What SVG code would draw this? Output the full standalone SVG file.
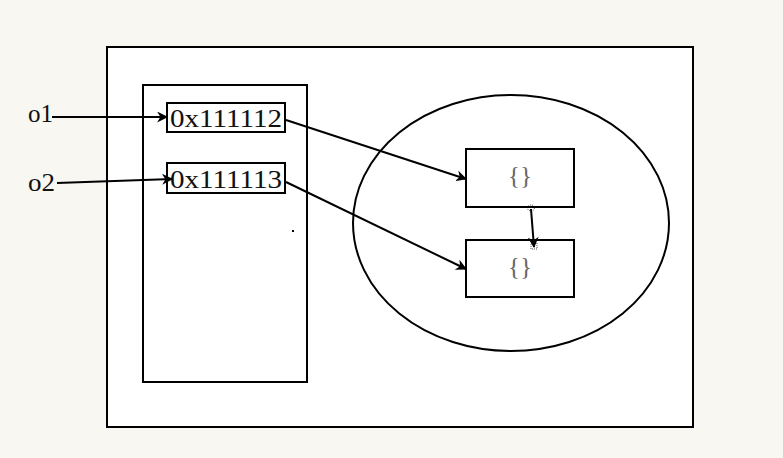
<svg xmlns="http://www.w3.org/2000/svg" width="783" height="458" viewBox="0 0 783 458">
<style>
.ln{fill:none;stroke:#000;stroke-width:2}
.bx{fill:#fff;stroke:#000;stroke-width:2}
.t{font-family:"Liberation Serif",serif;font-size:25px;fill:#111}
.br{font-family:"Liberation Serif",serif;font-size:25px;fill:#666}
.ar{fill:none;stroke:#000;stroke-width:2;marker-end:url(#ah)}
</style>
<defs>
<marker id="ah" viewBox="0 0 10 10" refX="9" refY="5" markerWidth="12" markerHeight="11" markerUnits="userSpaceOnUse" orient="auto">
<path d="M0,0 L10,5 L0,10 L3,5 Z" fill="#000"/>
</marker>
</defs>
<rect width="783" height="458" fill="#f9f7f1"/>
<g id="frame"><rect x="107" y="47" width="586" height="380" class="bx"/></g>
<g id="stack"><rect x="143" y="85" width="164" height="297" class="bx"/></g>
<g id="heap"><ellipse cx="511" cy="223" rx="158" ry="128" class="bx"/></g>
<g id="addr1"><rect x="167" y="103" width="118" height="29" class="bx"/><text x="170" y="127" class="t" textLength="112" lengthAdjust="spacingAndGlyphs">0x111112</text></g>
<g id="addr2"><rect x="167" y="163" width="118" height="30" class="bx"/><text x="170" y="188" class="t" textLength="112" lengthAdjust="spacingAndGlyphs">0x111113</text></g>
<g id="obj1"><rect x="466" y="149" width="108" height="58" class="bx"/><text x="520" y="184" class="br" text-anchor="middle">{}</text></g>
<g id="obj2"><rect x="466" y="240" width="108" height="57" class="bx"/><text x="520" y="275" class="br" text-anchor="middle">{}</text></g>
<g id="o1"><text x="28" y="122" class="t" textLength="25" lengthAdjust="spacingAndGlyphs">o1</text></g>
<g id="o2"><text x="28" y="191" class="t" textLength="27" lengthAdjust="spacingAndGlyphs">o2</text></g>
<g id="connectors">
<line x1="52" y1="117" x2="167" y2="117" class="ar"/>
<line x1="57" y1="183" x2="172" y2="179" class="ar"/>
<line x1="286" y1="120" x2="466" y2="179" class="ar"/>
<line x1="286" y1="182" x2="466" y2="269" class="ar"/>
<line x1="531" y1="209" x2="534" y2="247" class="ar"/>
<ellipse cx="531" cy="208" rx="3.5" ry="3" fill="none" stroke="#000" stroke-width="0.7" stroke-dasharray="1,1"/>
<rect x="531" y="243" width="6" height="6" fill="none" stroke="#000" stroke-width="0.7" stroke-dasharray="1,1"/>
</g>
<rect x="292" y="230" width="2" height="2" fill="#000"/>
</svg>
